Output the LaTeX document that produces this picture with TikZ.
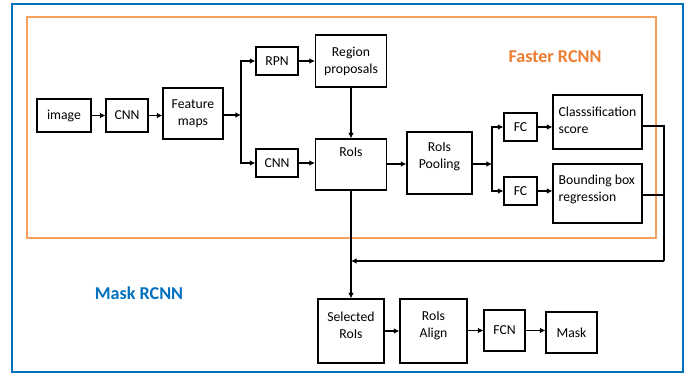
\documentclass[tikz,border=0pt]{standalone}
\usepackage{fontspec}
\setmainfont{Carlito}
\usetikzlibrary{arrows.meta, positioning}
\definecolor{maskblue}{RGB}{0,112,192}
\definecolor{fasterorange}{RGB}{237,125,49}
\definecolor{fasterline}{RGB}{246,160,95}

\tikzset{
  box/.style={draw, line width=0.6pt, font=\fontsize{7.8}{9.7}\selectfont, align=center, inner sep=1pt},
  boxtext/.style={font=\fontsize{7.8}{9.7}\selectfont},
  arr/.style={line width=0.6pt, -{Latex[length=3.2pt,width=3.2pt]}},
  lin/.style={line width=0.6pt}
}

\begin{document}
\begin{tikzpicture}[x=0.02cm, y=-0.02cm]
        \useasboundingbox (0,0) rectangle (691,374);
        % frames
        \draw[maskblue, line width=1.3pt] (12,4) rectangle (683,372);
        \draw[fasterline, line width=0.8pt] (27,17) rectangle (656,238);
        \node[font=\fontsize{10.3}{12}\selectfont\bfseries, fasterorange] (fastername) at (555,57) {Faster RCNN};
        \node[font=\fontsize{10.3}{12}\selectfont\bfseries, maskblue] (maskname) at (139,293) {Mask RCNN};
        % backbone
        \node[box, minimum width=1.08cm, minimum height=0.66cm] (image) at (64,115.5) {image};
        \node[box, minimum width=0.84cm, minimum height=0.66cm] (cnnA) at (127,115.5) {CNN};
        \node[box, minimum width=1.2cm, minimum height=1.02cm] (feat) at (193,113.5) {Feature\\maps};
        \coordinate (split) at (241,115);
        % proposals and rois
        \node[box, minimum width=0.84cm, minimum height=0.56cm] (rpn) at (277,61) {RPN};
        \node[box, minimum width=0.84cm, minimum height=0.56cm] (cnnB) at (277,163) {CNN};
        \node[box, minimum width=1.42cm, minimum height=1.04cm] (prop) at (351,61) {Region\\proposals};
        \node[box, minimum width=1.42cm, minimum height=1.02cm,
              label={[boxtext, anchor=north, yshift=-2pt]north:RoIs}] (rois) at (351,164.5) {};
        \node[box, minimum width=1.3cm, minimum height=1.24cm,
              label={[boxtext, align=center, yshift=3.3pt]center:RoIs\\Pooling}] (pool) at (439.5,163) {};
        \coordinate (fork) at (492,164);
        % heads
        \node[box, minimum width=0.66cm, minimum height=0.56cm] (fcA) at (520.5,127) {FC};
        \node[box, minimum width=0.66cm, minimum height=0.56cm] (fcB) at (520.5,191) {FC};
        \node[box, minimum width=1.78cm, minimum height=1.08cm,
              label={[boxtext, align=left, anchor=west, yshift=1pt]west:Classsification\\score}] (cls) at (597.5,122) {};
        \node[box, minimum width=1.78cm, minimum height=1.18cm,
              label={[boxtext, align=left, anchor=west, yshift=2.5pt]west:Bounding box\\regression}] (bbox) at (597.5,193.5) {};
        \coordinate (back) at (664,261);
        \coordinate (merge) at (351,261);
        % mask branch
        \node[box, minimum width=1.32cm, minimum height=1.28cm,
              label={[boxtext, align=center, yshift=3.5pt]center:Selected\\RoIs}] (sel) at (351,331) {};
        \node[box, minimum width=1.34cm, minimum height=1.28cm,
              label={[boxtext, align=center, yshift=3pt]center:RoIs\\Align}] (align) at (433.5,331) {};
        \node[box, minimum width=0.82cm, minimum height=0.82cm] (fcn) at (504.5,330.5) {FCN};
        \node[box, minimum width=1.02cm, minimum height=0.82cm] (mask) at (571.5,332.5) {Mask};
        % connectors
        \draw[arr] (image) -- (cnnA);
        \draw[arr] (cnnA.east) -- (cnnA.east -| feat.west);
        \draw[arr] (feat.east |- split) -- (split);
        \draw[arr] (split) |- (rpn);
        \draw[arr] (split) |- (cnnB);
        \draw[arr] (rpn) -- (prop);
        \draw[arr] (cnnB.east) -- (cnnB.east -| rois.west);
        \draw[arr] (prop) -- (rois);
        \draw[arr] (rois.east |- fork) -- (pool.west |- fork);
        \draw[arr] (pool.east |- fork) -- (fork);
        \draw[arr] (fork) |- (fcA);
        \draw[arr] (fork) |- (fcB);
        \draw[arr] (fcA.east) -- (fcA.east -| cls.west);
        \draw[arr] (fcB.east) -- (fcB.east -| bbox.west);
        \draw[lin] ([yshift=-0.08cm]cls.east) -| (back);
        \draw[lin] ([yshift=-0.03cm]bbox.east) -- ([yshift=-0.03cm]bbox.east -| back);
        \draw[arr] (back) -- (merge);
        \draw[arr] (rois) -- (sel);
        \draw[arr] (sel) -- (align);
        \draw[arr] (align.east |- fcn) -- (fcn);
        \draw[arr] (fcn) -- (fcn -| mask.west);
\end{tikzpicture}
\end{document}
